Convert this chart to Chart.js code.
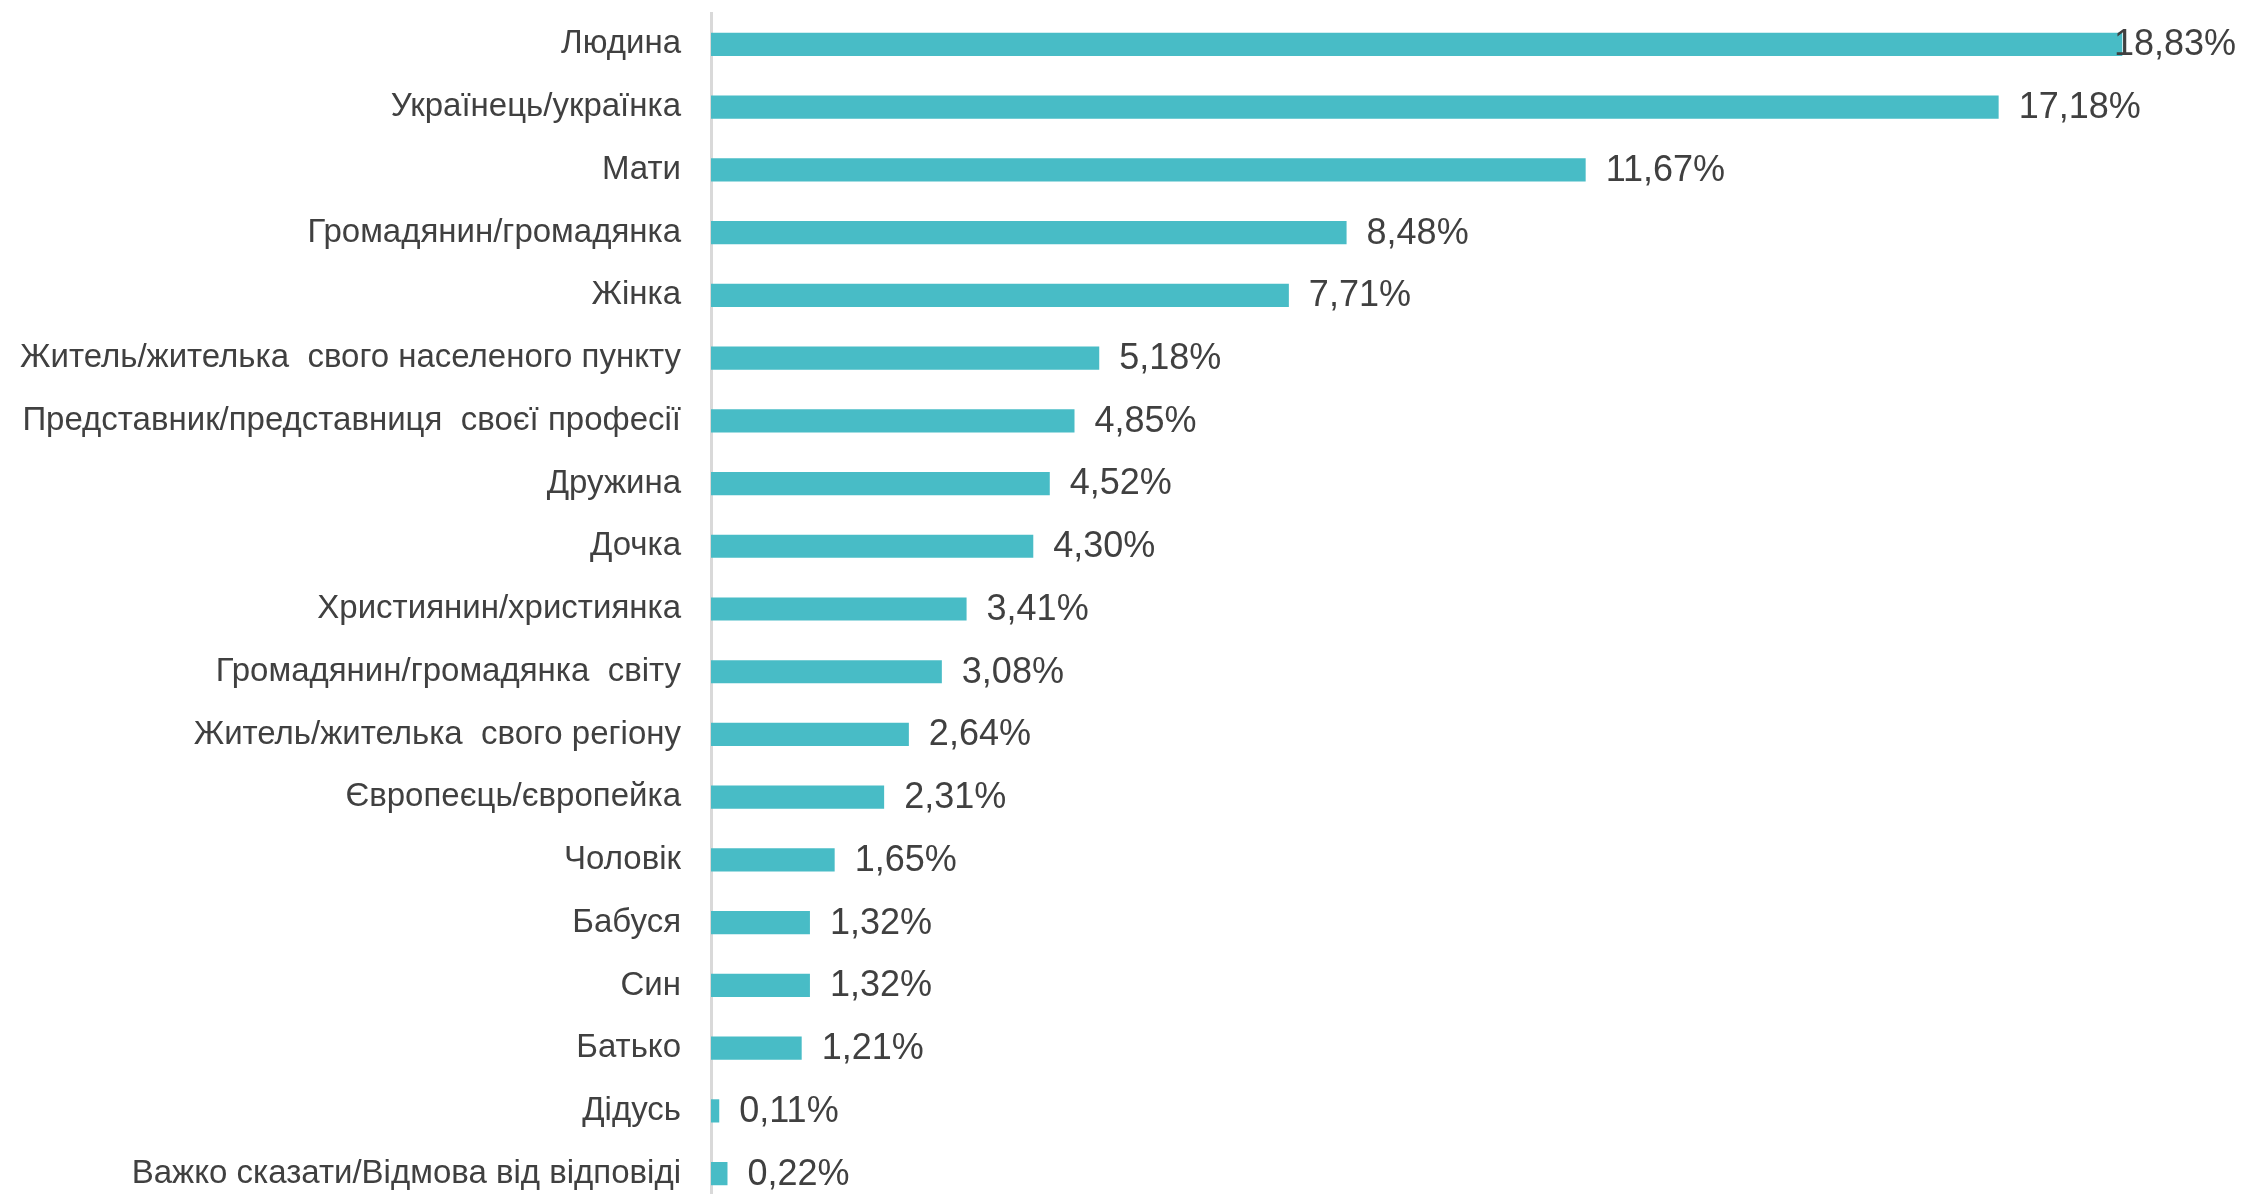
<!DOCTYPE html>
<html lang="uk">
<head>
<meta charset="utf-8">
<title>Самоідентифікація</title>
<script src="https://cdn.jsdelivr.net/npm/chart.js@4.4.1/dist/chart.umd.min.js"></script>
<style>
    html, body { margin: 0; padding: 0; background: #fff; overflow: hidden; }
    #wrap { width: 2244px; height: 1205px; position: relative; }
</style>
</head>
<body>
<div id="wrap"><canvas id="grafica"></canvas></div>
<script>
// ==========================================
// DATOS
// ==========================================
const categorias = [
    'Людина',
    'Українець/українка',
    'Мати',
    'Громадянин/громадянка',
    'Жінка',
    'Житель/жителька  свого населеного пункту',
    'Представник/представниця  своєї професії',
    'Дружина',
    'Дочка',
    'Християнин/християнка',
    'Громадянин/громадянка  світу',
    'Житель/жителька  свого регіону',
    'Європеєць/європейка',
    'Чоловік',
    'Бабуся',
    'Син',
    'Батько',
    'Дідусь',
    'Важко сказати/Відмова від відповіді'
];
const valores = [18.83, 17.18, 11.67, 8.48, 7.71, 5.18, 4.85, 4.52, 4.30, 3.41, 3.08, 2.64, 2.31, 1.65, 1.32, 1.32, 1.21, 0.11, 0.22];
const ejeMax = 20;

const COLOR_BARRA = '#48bcc6';
const COLOR_TEXTO = '#404040';
const FUENTE = 'Arial, "Liberation Sans", sans-serif';

// Etiquetas de valor a la derecha de cada barra
const etiquetasValor = {
    id: 'etiquetasValor',
    afterDatasetsDraw(chart) {
        const ctx = chart.ctx;
        const meta = chart.getDatasetMeta(0);
        ctx.save();
        ctx.font = `36px ${FUENTE}`;
        ctx.fillStyle = COLOR_TEXTO;
        ctx.textAlign = 'left';
        ctx.textBaseline = 'middle';
        meta.data.forEach((bar, i) => {
            const txt = valores[i].toFixed(2).replace('.', ',') + '%';
            const w = ctx.measureText(txt).width;
            // si no cabe, se recorre hacia la izquierda (como en Excel)
            const x = Math.min(bar.x + 20, chart.width - w - 8);
            ctx.fillText(txt, x, bar.y + 1);
        });
        ctx.restore();
    }
};

new Chart(document.getElementById('grafica'), {
    type: 'bar',
    data: {
        labels: categorias,
        datasets: [{
            data: valores,
            backgroundColor: COLOR_BARRA,
            borderWidth: 0,
            barPercentage: 0.37,
            categoryPercentage: 1
        }]
    },
    options: {
        indexAxis: 'y',
        responsive: true,
        maintainAspectRatio: false,
        animation: false,
        layout: { padding: { top: 13, right: 34, bottom: 0, left: 0 } },
        scales: {
            x: {
                display: false,
                min: 0,
                max: ejeMax
            },
            y: {
                grid: { display: false, drawTicks: false, tickLength: 0 },
                border: { display: true, color: '#d9d9d9', width: 3 },
                ticks: {
                    color: COLOR_TEXTO,
                    font: { family: FUENTE, size: 33 },
                    padding: 30,
                    autoSkip: false
                },
                afterFit(scale) {
                    scale.width = 711;
                    scale.paddingTop = 0;
                    scale.paddingBottom = 0;
                }
            }
        },
        plugins: {
            legend: { display: false },
            tooltip: { enabled: false }
        }
    },
    plugins: [etiquetasValor]
});
</script>
</body>
</html>
